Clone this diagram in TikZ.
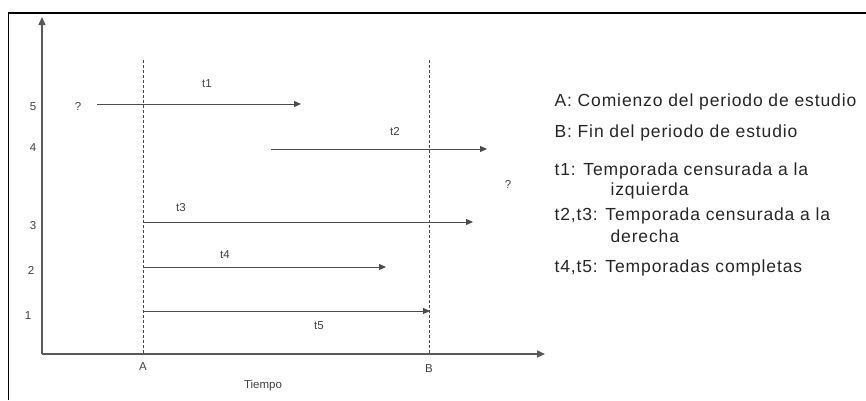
\documentclass[tikz,border=0pt]{standalone}
\usepackage{fontspec}
\setmainfont{Liberation Sans}
\newfontfamily\legendfont[LetterSpace=5]{Liberation Sans}
\usetikzlibrary{arrows.meta}

\begin{document}
\begin{tikzpicture}[x=1pt,y=-1pt,
    axis/.style={draw=black!65, line width=1.3pt},
    period/.style={draw=black!70, line width=1pt, dash pattern=on 3pt off 2pt},
    spell/.style={draw=black!70, line width=1pt, -{Triangle[length=7pt,width=6pt]}},
    small/.style={font=\fontsize{11.5}{13}\selectfont, text=black!75},
    legend/.style={anchor=west, font=\legendfont\fontsize{17.5}{20}\selectfont, text=black!85}]
      \useasboundingbox (0,0) rectangle (866,400);
      \draw[black, line width=1.6pt] (8.5,400) -- (8.5,13) -- (866,13);
      % axes
      \coordinate (O) at (42,354);
      \coordinate (ytop) at (42,17);
      \coordinate (xend) at (545,354);
      \draw[axis, -{Triangle[length=8pt,width=7pt]}] (O) -- (ytop);
      \draw[axis, -{Triangle[length=8pt,width=7pt]}] (O) -- (xend);
      % study period
      \coordinate (Atop) at (143,60);
      \coordinate (Abot) at (143,354);
      \coordinate (Btop) at (429,60);
      \coordinate (Bbot) at (429,354);
      \draw[period] (Atop) -- (Abot);
      \draw[period] (Btop) -- (Bbot);
      \node (A) at (143,367) [small] {A};
      \node (B) at (429,369) [small] {B};
      \node (tiempo) at (263,386) [small] {Tiempo};
      % rows
      \node (r5) at (33,107) [small] {5};
      \node (r4) at (33,148) [small] {4};
      \node (r3) at (33,226) [small] {3};
      \node (r2) at (31,270) [small] {2};
      \node (r1) at (28,316) [small] {1};
      \node (q1) at (78,106) [small] {?};
      \node (q2) at (508,184) [small] {?};
      % spells
      \coordinate (s1) at (97,104);  \coordinate (e1) at (301,104);
      \coordinate (s2) at (271,149); \coordinate (e2) at (487,149);
      \coordinate (s3) at (143,222); \coordinate (e3) at (473,222);
      \coordinate (s4) at (143,267); \coordinate (e4) at (386,267);
      \coordinate (s5) at (143,311); \coordinate (e5) at (430,311);
      \draw[spell] (s1) -- (e1);
      \draw[spell] (s2) -- (e2);
      \draw[spell] (s3) -- (e3);
      \draw[spell] (s4) -- (e4);
      \draw[spell] (s5) -- (e5);
      \node (t1) at (207,84) [small] {t1};
      \node (t2) at (395,132) [small] {t2};
      \node (t3) at (181,208) [small] {t3};
      \node (t4) at (225,255) [small] {t4};
      \node (t5) at (319,326) [small] {t5};
      % legend
      \node (legA) at (551,102) [legend] {A: Comienzo del periodo de estudio};
      \node (legB) at (551,133) [legend] {B: Fin del periodo de estudio};
      \node (leg1) at (551,171) [legend] {t1: Temporada censurada a la};
      \node (leg1b) at (607,191) [legend] {izquierda};
      \node (leg23) at (551,216) [legend] {t2,t3: Temporada censurada a la};
      \node (leg23b) at (607,236) [legend] {derecha};
      \node (leg45) at (551,268) [legend] {t4,t5: Temporadas completas};
    \end{tikzpicture}
\end{document}
